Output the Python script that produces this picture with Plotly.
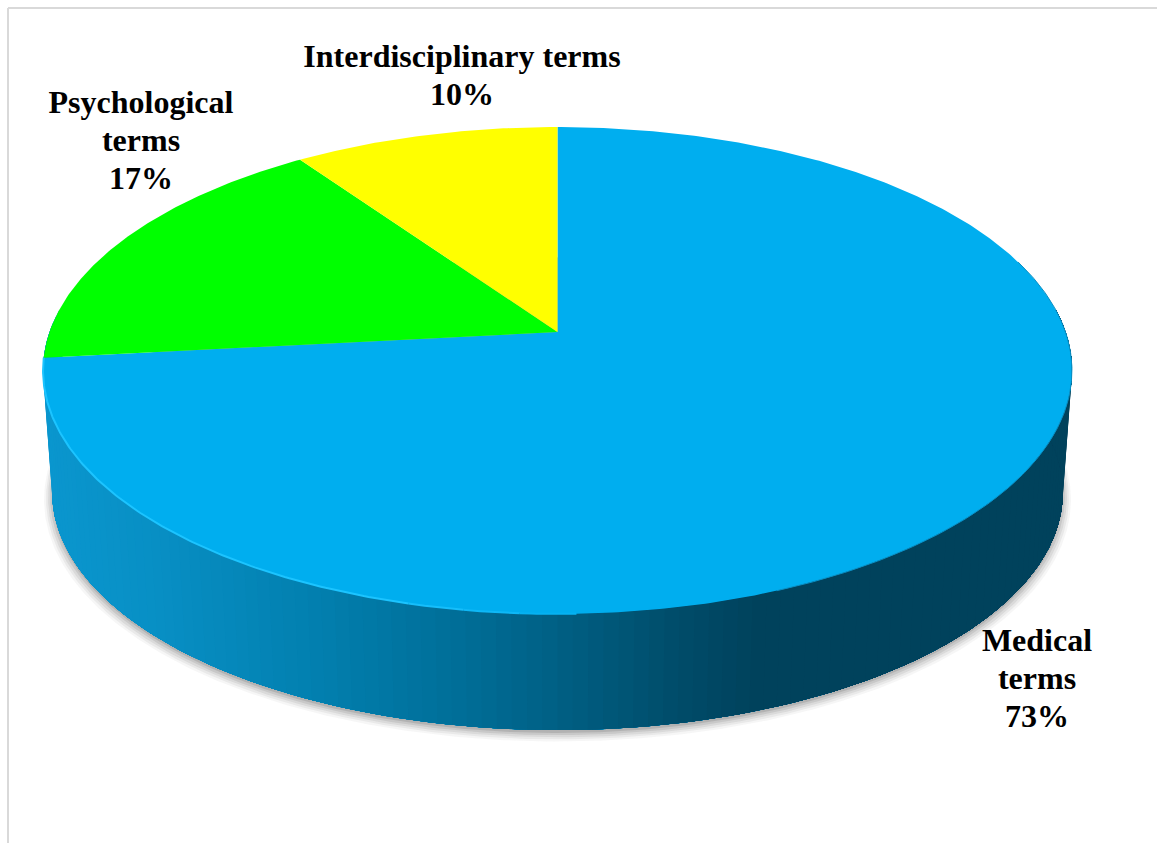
import math
import plotly.graph_objects as go

# ---- data ----
categories = ["Medical terms", "Psychological terms", "Interdisciplinary terms"]
values = [73.3, 17.0, 9.7]
slice_colors = ["#00AEEF", "#00FF00", "#FFFF00"]
label_lines = [["Medical", "terms", "73%"], ["Psychological", "terms", "17%"], ["Interdisciplinary terms", "10%"]]
label_x = [1037, 141, 462]
label_y = [643, 105, 59]
line_pitch = 38.0

# side gradient (screen x -> colour)
grad_x = [44, 150, 300, 450, 560, 660, 750, 1075]
grad_rgb = [(10, 150, 206), (8, 143, 196), (2, 128, 176), (0, 110, 152), (0, 94, 130), (0, 78, 108), (0, 66, 92), (0, 66, 92)]

# rim highlight fade along the first slice: (from, to, colour)
rim_lit = [(0.495, 0.51, "#06B2F2"), (0.51, 0.525, "#0EB8F7"), (0.525, 0.54, "#16BEFB"), (0.54, 0.733, "#1CC4FF")]

# ---- perspective disc model ----
CX, TOP_Y, SIDE_Y = 557.5, 332.0, 454.5
A_TOP, B_TOP, K = 508.0, 237.4, 0.158
A_BOT, B_BOT = 499.0, 232.0


def disc(frac, cy, a, b, dy=0.0, scale=1.0):
    th = 2 * math.pi * frac
    u, v = math.sin(th), math.cos(th)
    w = 1 + K * v
    return CX + scale * a * u / w, cy + dy - scale * b * v / w


def arc(f0, f1, cy, a, b, dy=0.0, scale=1.0, res=720):
    n = max(2, int(abs(f1 - f0) * res))
    pts = [disc(f0 + (f1 - f0) * i / n, cy, a, b, dy, scale) for i in range(n + 1)]
    return [p[0] for p in pts], [p[1] for p in pts]


def side_colour(x):
    for i in range(len(grad_x) - 1):
        if x <= grad_x[i + 1]:
            t = max(0.0, (x - grad_x[i]) / (grad_x[i + 1] - grad_x[i]))
            c = [round(grad_rgb[i][j] + (grad_rgb[i + 1][j] - grad_rgb[i][j]) * t) for j in range(3)]
            return "rgb(%d,%d,%d)" % tuple(c)
    return "rgb(%d,%d,%d)" % grad_rgb[-1]


fig = go.Figure()


def poly(xs, ys, fill, line=None, lw=0):
    fig.add_trace(go.Scatter(x=xs, y=ys, mode="lines", fill="toself", fillcolor=fill,
                             line=dict(color=line or fill, width=lw), hoverinfo="skip", showlegend=False))


# soft shadow
for s, dy, alpha in [(1.016, 7, 0.05), (1.012, 6, 0.07), (1.008, 5, 0.09), (1.004, 4, 0.12), (1.0, 3, 0.16)]:
    xs, ys = arc(0.0, 1.0, SIDE_Y, A_BOT, B_BOT, dy, s)
    poly(xs, ys, "rgba(70,70,70,%.2f)" % alpha)

# side wall: painted left to right, each band covering everything to its right so no seams show
N = 130
f_right, f_left = 0.235, 0.765
for i in range(N):
    f0 = f_left - (f_left - f_right) * i / N
    x0, y0 = arc(f0, f_right, TOP_Y, A_TOP, B_TOP, res=360)
    x1, y1 = arc(f_right, f0, SIDE_Y, A_BOT, B_BOT, res=360)
    poly(x0 + x1, y0 + y1, side_colour(x0[0]))

# top slices, clockwise from 12 o'clock
total = sum(values)
start = 0.0
for val, col in zip(values, slice_colors):
    f = val / total
    xs, ys = arc(start, start + f, TOP_Y, A_TOP, B_TOP)
    poly([CX] + xs + [CX], [TOP_Y] + ys + [TOP_Y], col)
    start += f

# rim highlight on the lit edge of the first slice, darker on the shaded edge
for f0, f1, col in rim_lit:
    xs, ys = arc(f0, f1, TOP_Y, A_TOP, B_TOP)
    fig.add_trace(go.Scatter(x=xs, y=ys, mode="lines", line=dict(color=col, width=2),
                             hoverinfo="skip", showlegend=False))
xs, ys = arc(0.2, 0.44, TOP_Y, A_TOP, B_TOP)
fig.add_trace(go.Scatter(x=xs, y=ys, mode="lines", line=dict(color="#0A8FC4", width=1),
                         hoverinfo="skip", showlegend=False))

# labels
tx, ty, tt = [], [], []
for lines, x, y in zip(label_lines, label_x, label_y):
    for j, t in enumerate(lines):
        tx.append(x)
        ty.append(y + j * line_pitch)
        tt.append("<b>%s</b>" % t)
fig.add_trace(go.Scatter(x=tx, y=ty, text=tt, mode="text", textposition="middle center",
                         textfont=dict(family="Liberation Serif", size=32, color="#000000"),
                         hoverinfo="skip", showlegend=False))

# chart-area frame: top and left only
fig.add_shape(type="line", x0=8, x1=1157, y0=8, y1=8, line=dict(color="#D9D9D9", width=2))
fig.add_shape(type="line", x0=8, x1=8, y0=8, y1=843, line=dict(color="#D9D9D9", width=2))

fig.update_layout(
    width=1157, height=843, margin=dict(l=0, r=0, t=0, b=0),
    paper_bgcolor="white", plot_bgcolor="white", showlegend=False,
    xaxis=dict(range=[0, 1157], visible=False, fixedrange=True),
    yaxis=dict(range=[843, 0], visible=False, fixedrange=True),
)
fig.write_html("out.html", config=dict(displayModeBar=False),
               post_script="document.body.style.margin='0';document.body.style.overflow='hidden';")
